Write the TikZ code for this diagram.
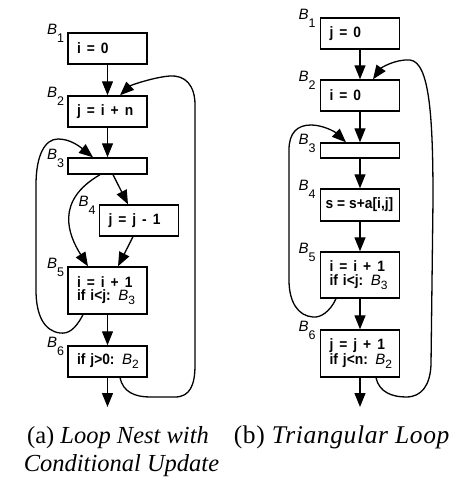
\documentclass[tikz,border=0pt]{standalone}
\usepackage{fontspec}
\setmainfont{Liberation Serif}
\newfontfamily\boxfont[FakeStretch=0.92]{Liberation Sans}
\newfontfamily\labfont{Liberation Sans}
\usetikzlibrary{arrows.meta,calc}
\DeclareRobustCommand\boxtext{\boxfont\bfseries\fontsize{15}{13.5}\selectfont}
\newcommand\sk{\kern6pt\relax}
\newcommand\outlab[1]{{\labfont\itshape\fontsize{15}{15}\selectfont B}\raisebox{-8.5pt}{\labfont\fontsize{12.5}{12.5}\selectfont #1}}
\newcommand\inlab[1]{{\labfont\mdseries\itshape B}\raisebox{-4pt}{\labfont\mdseries\fontsize{12}{12}\selectfont #1}}
\tikzset{
  blk/.style={draw, line width=1.4pt, minimum width=79pt, text width=61pt,
    inner xsep=9pt, inner ysep=0pt, align=left, font=\boxtext},
  lab/.style={anchor=base east, inner sep=0pt},
  conn/.style={line width=1.3pt, -{Triangle[length=14pt,width=11pt]}},
  captxt/.style={anchor=base, inner sep=0pt, font=\fontsize{24.5}{28}\selectfont}
}
\begin{document}
\begin{tikzpicture}[x=1pt,y=-1pt]
\path[use as bounding box] (0,0) rectangle (466,482);
% ---------------- left diagram ----------------
\node[blk, minimum height=31pt] (a1) at (107.5,48.5) {\mbox{i\sk=\sk0}};
\node[blk, minimum height=31pt] (a2) at (107.5,111.5) {\mbox{j\sk=\sk i\sk+\sk n}};
\node[blk, minimum height=16pt] (a3) at (107.5,166) {};
\node[blk, minimum height=31pt] (a4) at (139,220.5) {\mbox{j\sk=\sk j\sk-\sk1}};
\node[blk, minimum height=47pt] (a5) at (107.5,290.5) {\mbox{i\sk=\sk i\sk+\sk1}\\\mbox{if i<j: \inlab{3}}};
\node[blk, minimum height=31pt] (a6) at (107.5,361.5) {\mbox{if j>0: \inlab{2}}};
\coordinate (aout) at (107.5,407);
\node[lab] (la1) at ($(a1.north west)+(-3,2)$) {\outlab{1}};
\node[lab] (la2) at ($(a2.north west)+(-3,2)$) {\outlab{2}};
\node[lab] (la3) at ($(a3.north west)+(-3,2)$) {\outlab{3}};
\node[lab] (la4) at ($(a4.north west)+(-3,2)$) {\outlab{4}};
\node[lab] (la5) at ($(a5.north west)+(-3,2)$) {\outlab{5}};
\node[lab] (la6) at ($(a6.north west)+(-3,2)$) {\outlab{6}};
\draw[conn] (a1.south) -- (a2.north);
\draw[conn] (a2.south) -- (a3.north);
\draw[conn] ($(a3.south)+(5.5,0)$) -- ($(a4.north)+(-11,0)$);
\draw[conn] ($(a3.south)+(-7.5,0)$) .. controls +(-45,26) and +(-20,-32) .. ($(a5.north)+(-19.5,0)$);
\draw[conn] ($(a4.south)+(-6,0)$) -- ($(a5.north)+(10.5,0)$);
\draw[conn] (a5.south) -- (a6.north);
\draw[conn] (a6.south) -- (aout);
\draw[conn] ($(a5.south)+(-24.5,0)$) .. controls (75,330) and (68,334) .. (60,333)
  .. controls (44,331) and (36,315) .. (36,290) -- (36,185)
  .. controls (36,155) and (45,139) .. (58,139)
  .. controls (70,139) and (79,146) .. ($(a3.north)+(-14.5,0)$);
\draw[conn] ($(a6.south)+(12.5,0)$) .. controls (123,392) and (135,397) .. (150,397) -- (175,397)
  .. controls (190,397) and (195,385) .. (195,365) -- (195,105)
  .. controls (195,85) and (185,75) .. (170,76)
  .. controls (155,77) and (131,85) .. ($(a2.north)+(12.5,0)$);
% ---------------- right diagram ----------------
\node[blk, minimum height=31pt] (b1) at (360,33.5) {\mbox{j\sk=\sk0}};
\node[blk, minimum height=31pt] (b2) at (360,95.5) {\mbox{i\sk=\sk0}};
\node[blk, minimum height=15pt] (b3) at (360,150.5) {};
\node[blk, minimum height=32pt, text width=69pt, inner xsep=4.5pt] (b4) at (360,205) {\mbox{s\kern4pt=\kern4pt s+a[i,j]}};
\node[blk, minimum height=46pt] (b5) at (360,275) {\mbox{i\sk=\sk i\sk+\sk1}\\\mbox{if i<j: \inlab{3}}};
\node[blk, minimum height=47pt] (b6) at (360,353.5) {\mbox{j\sk=\sk j\sk+\sk1}\\\mbox{if j<n: \inlab{2}}};
\coordinate (bout) at (360,407);
\node[lab] (lb1) at ($(b1.north west)+(-4,2)$) {\outlab{1}};
\node[lab] (lb2) at ($(b2.north west)+(-4,2)$) {\outlab{2}};
\node[lab] (lb3) at ($(b3.north west)+(-4,2)$) {\outlab{3}};
\node[lab] (lb4) at ($(b4.north west)+(-4,2)$) {\outlab{4}};
\node[lab] (lb5) at ($(b5.north west)+(-4,2)$) {\outlab{5}};
\node[lab] (lb6) at ($(b6.north west)+(-4,2)$) {\outlab{6}};
\draw[conn] (b1.south) -- (b2.north);
\draw[conn] (b2.south) -- (b3.north);
\draw[conn] (b3.south) -- (b4.north);
\draw[conn] (b4.south) -- (b5.north);
\draw[conn] (b5.south) -- (b6.north);
\draw[conn] (b6.south) -- (bout);
\draw[conn] ($(b5.south)+(-24,0)$) .. controls (330,312) and (320,318) .. (313,317)
  .. controls (298,316) and (289,302) .. (289,280) -- (289,150)
  .. controls (289,133) and (297,125) .. (311,125)
  .. controls (322,125) and (334,131) .. ($(b3.north)+(-14,0)$);
\draw[conn] ($(b6.south)+(16,0)$) .. controls (379,392) and (392,397) .. (406,397)
  .. controls (422,397) and (430,385) .. (431,365) -- (433,200)
  .. controls (433,120) and (430,62) .. (410,60)
  .. controls (395,59) and (381,68) .. ($(b2.north)+(13,0)$);
% ---------------- captions ----------------
\node[captxt] (ca1) at (118,443) {(a) \textit{Loop Nest with}};
\node[captxt] (ca2) at (121.5,471) {\textit{Conditional Update}};
\node[captxt, font=\fontsize{25.5}{28}\selectfont] (cb1) at (342,443) {\addfontfeature{LetterSpace=2.5}(b) \textit{Triangular Loop}};
\end{tikzpicture}
\end{document}
